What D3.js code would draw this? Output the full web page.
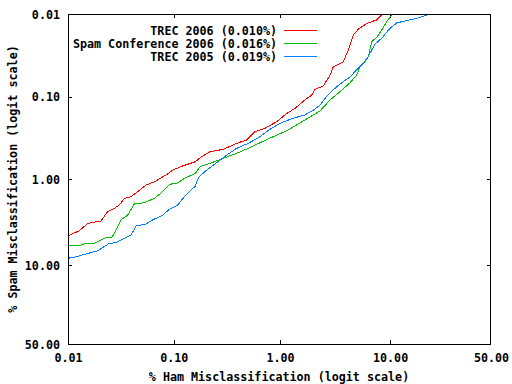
<!DOCTYPE html>
<html><head><meta charset="utf-8">
<script src="https://cdn.jsdelivr.net/npm/d3@7"></script>
<style>
html,body{margin:0;padding:0;background:#fff;}
text{font-family:"DejaVu Sans Mono","Liberation Mono",monospace;font-weight:bold;font-size:11.7px;fill:#000;}
</style></head><body>
<svg id="c" width="512" height="384"></svg>
<script>
// Tick labels (percent)
const tickValues = [0.01, 0.10, 1.00, 10.00, 50.00];
const tickLabels = ["0.01", "0.10", "1.00", "10.00", "50.00"];
const seriesNames = ["TREC 2006 (0.010%)", "Spam Conference 2006 (0.016%)", "TREC 2005 (0.019%)"];
const seriesColors = ["#ff0000", "#00c000", "#0080ff"];

// % ham misclassification (x) and % spam misclassification (y)
const trec2006Ham = [0.010,0.0128,0.0154,0.0205,0.0237,0.0274,0.0306,0.0341,0.0394,0.0457,0.0546,0.0655,0.0845,0.0978,0.121,0.160,0.177,0.220,0.293,0.406,0.487,0.583,0.724,0.932,1.16,1.38,1.71,1.98,2.12,2.53,2.92,3.13,3.86,4.28,4.75,5.27,6.26,7.66,8.47,8.74];
const trec2006Spam = [4.68,4.06,3.33,3.13,2.43,2.22,2.02,1.69,1.61,1.40,1.17,1.07,0.886,0.772,0.691,0.613,0.549,0.465,0.435,0.362,0.336,0.266,0.242,0.202,0.160,0.139,0.110,0.0959,0.0818,0.0745,0.0549,0.0435,0.0379,0.0273,0.0180,0.0153,0.0130,0.0118,0.0103,0.0100];

const spamConfHam = [0.010,0.0124,0.0148,0.0177,0.0229,0.0261,0.0295,0.0317,0.0367,0.0424,0.0527,0.0655,0.0786,0.0908,0.109,0.126,0.160,0.177,0.228,0.293,0.392,0.505,0.650,0.866,1.16,1.43,1.71,2.36,2.92,3.60,4.44,5.10,5.46,6.47,6.93,7.66,8.47,9.36,10.3,10.8];
const spamConfSpam = [6.09,6.09,5.68,5.68,4.84,4.84,3.65,3.04,2.66,1.97,1.90,1.69,1.40,1.15,1.10,0.971,0.846,0.705,0.631,0.558,0.486,0.423,0.362,0.306,0.259,0.221,0.192,0.149,0.110,0.0875,0.0680,0.0549,0.0435,0.0330,0.0216,0.0192,0.0156,0.0124,0.0103,0.0100];

const trec2005Ham = [0.010,0.0119,0.0148,0.0191,0.0246,0.0284,0.0329,0.0394,0.0440,0.0546,0.0632,0.0786,0.0908,0.109,0.126,0.160,0.171,0.205,0.254,0.316,0.392,0.505,0.650,0.807,1.00,1.33,1.71,2.05,2.36,2.72,3.36,4.44,5.27,6.05,6.69,7.41,8.47,9.98,11.4,13.8,16.5,19.8,20.9];
const trec2005Spam = [8.38,8.05,7.50,6.89,5.68,5.59,5.11,4.56,3.58,3.39,3.04,2.66,2.28,2.02,1.61,1.20,0.945,0.772,0.631,0.509,0.423,0.368,0.306,0.249,0.211,0.183,0.167,0.146,0.127,0.0987,0.0760,0.0576,0.0455,0.0379,0.0300,0.0231,0.0197,0.0149,0.0128,0.0120,0.0113,0.0103,0.0100];

const seriesHam = [trec2006Ham, spamConfHam, trec2005Ham];
const seriesSpam = [trec2006Spam, spamConfSpam, trec2005Spam];

const logit = pct => { const p = pct / 100; return Math.log(p / (1 - p)); };

const L = 68, R = 491, T = 14, B = 344;
const svg = d3.select("#c");
const x = d3.scaleLinear().domain([logit(0.01), logit(50)]).range([L, R]);
const y = d3.scaleLinear().domain([logit(0.01), logit(50)]).range([T, B]);

svg.append("defs").append("clipPath").attr("id","clip")
  .append("rect").attr("x",L).attr("y",T).attr("width",R-L).attr("height",B-T);

const tl = 4;
// bottom axis labels
const gx = svg.append("g").attr("transform",`translate(0,${B})`)
  .call(d3.axisBottom(x).tickValues(tickValues.map(logit)).tickSize(0).tickPadding(0)
    .tickFormat((d,i)=>tickLabels[i]));
gx.select(".domain").remove();
gx.selectAll("text").attr("dy",null).attr("y",18);
const gy = svg.append("g").attr("transform",`translate(${L},0)`)
  .call(d3.axisLeft(y).tickValues(tickValues.map(logit)).tickSize(0).tickPadding(0)
    .tickFormat((d,i)=>tickLabels[i]));
gy.select(".domain").remove();
gy.selectAll("text").attr("x",-8).attr("dy","0.35em");
svg.selectAll("g").attr("font-size",null).attr("font-family",null);

// inward ticks on all four sides
const inner = tickValues.slice(1, -1).map(logit);
const tg = svg.append("g").attr("stroke","#000").attr("stroke-width",1).attr("shape-rendering","crispEdges");
inner.forEach(v => {
  const px = Math.round(x(v)) + 0.5, py = Math.round(y(v)) + 0.5;
  tg.append("line").attr("x1",px).attr("x2",px).attr("y1",B).attr("y2",B-tl);
  tg.append("line").attr("x1",px).attr("x2",px).attr("y1",T).attr("y2",T+tl);
  tg.append("line").attr("x1",L).attr("x2",L+tl).attr("y1",py).attr("y2",py);
  tg.append("line").attr("x1",R).attr("x2",R-tl).attr("y1",py).attr("y2",py);
});

// curves
const line = d3.line().x(d => x(logit(d[0]))).y(d => y(logit(d[1])));
const cg = svg.append("g").attr("clip-path","url(#clip)");
seriesHam.forEach((hs, i) => {
  const pts = hs.map((h, j) => [h, seriesSpam[i][j]]);
  cg.append("path").datum(pts).attr("d", line).attr("fill","none")
    .attr("stroke", seriesColors[i]).attr("stroke-width",1).attr("shape-rendering","crispEdges");
});

// frame
svg.append("rect").attr("x",L+0.5).attr("y",T+0.5).attr("width",R-L-1).attr("height",B-T)
  .attr("fill","none").attr("stroke","#000").attr("shape-rendering","crispEdges");

// legend
const lg = svg.append("g");
seriesNames.forEach((n, i) => {
  const yy = 31 + i * 13;
  lg.append("text").attr("x",277).attr("y",yy).attr("dy","0.35em").attr("text-anchor","end").text(n);
  lg.append("line").attr("x1",284).attr("x2",317).attr("y1",yy-0.5).attr("y2",yy-0.5)
    .attr("stroke",seriesColors[i]).attr("shape-rendering","crispEdges");
});

// axis titles
svg.append("text").attr("x",279).attr("y",377).attr("dy","0.35em").attr("text-anchor","middle")
  .text("% Ham Misclassification (logit scale)");
svg.append("text").attr("transform","translate(13,179) rotate(-90)").attr("dy","0.35em")
  .attr("text-anchor","middle").text("% Spam Misclassification (logit scale)");
</script>
</body></html>
